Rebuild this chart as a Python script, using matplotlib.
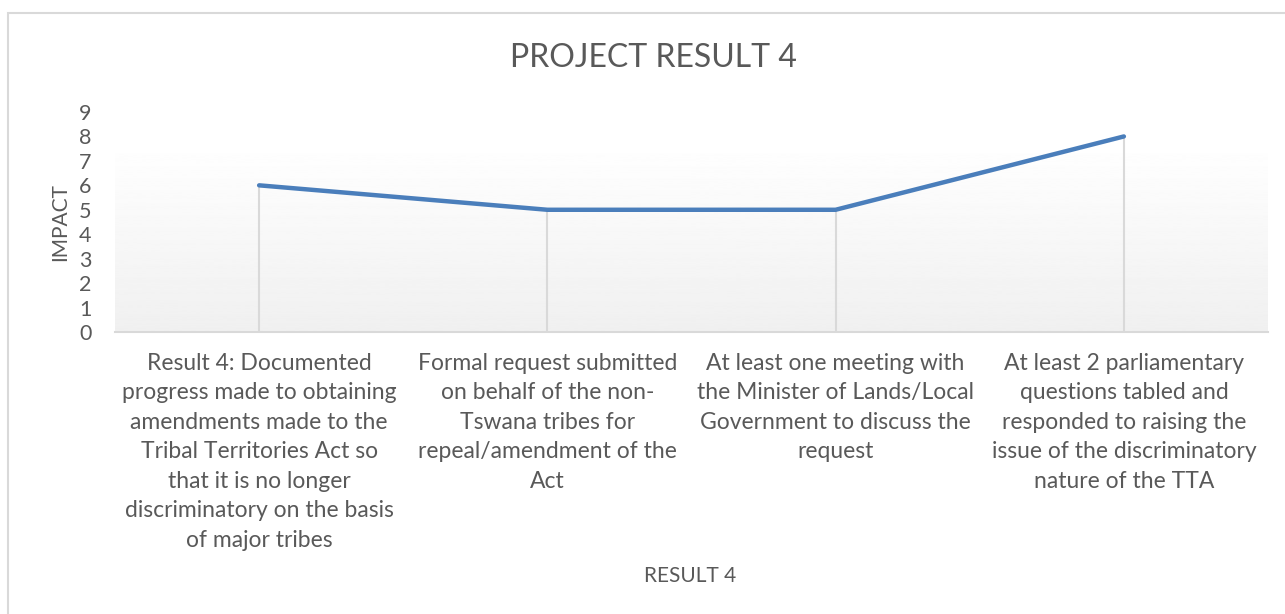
import numpy as np
import matplotlib.pyplot as plt
from matplotlib.patches import Rectangle

categories = [
    'Result 4: Documented\nprogress made to obtaining\namendments made to the\nTribal Territories Act so\nthat it is no longer\ndiscriminatory on the basis\nof major tribes',
    'Formal request submitted\non behalf of the non-\nTswana tribes for\nrepeal/amendment of the\nAct',
    'At least one meeting with\nthe Minister of Lands/Local\nGovernment to discuss the\nrequest',
    'At least 2 parliamentary\nquestions tabled and\nresponded to raising the\nissue of the discriminatory\nnature of the TTA',
]
impact = [6, 5, 5, 8]
y_ticks = list(range(0, 10))

plt.rcParams['font.family'] = ['Lato', 'DejaVu Sans']
text_color = '#595959'

fig = plt.figure(figsize=(12.85, 6.14), dpi=100)
ax = fig.add_axes([115/1285, 1-332/614, 1153/1285, 220/614])

x = np.arange(len(categories))
ax.set_xlim(-0.5, len(categories) - 0.5)
ax.set_ylim(0, 9)

# 渐变背景
grad = np.linspace(0.94, 1.0, 256).reshape(-1, 1)
ax.imshow(grad, cmap='gray', vmin=0, vmax=1, origin='lower', aspect='auto',
          extent=(-0.5, len(categories) - 0.5, 0, 7.8), zorder=0)

# 垂直线
ax.vlines(x, 0, impact, color='#d9d9d9', linewidth=1.5, zorder=1)
ax.plot(x, impact, color='#4a7ebb', linewidth=3.2, solid_capstyle='round', zorder=3)

ax.set_xticks(x)
ax.set_xticklabels(categories, fontsize=16.5, color=text_color, linespacing=1.5)
ax.set_yticks(y_ticks)
ax.set_yticklabels([str(v) for v in y_ticks], fontsize=15.5, color=text_color)
ax.tick_params(length=0)
ax.tick_params(axis='x', pad=15)
ax.tick_params(axis='y', pad=17)

for s in ['top', 'right', 'left']:
    ax.spines[s].set_visible(False)
ax.spines['bottom'].set_color('#d9d9d9')
ax.spines['bottom'].set_linewidth(1.5)

ax.set_ylabel('IMPACT', fontsize=15, color=text_color, labelpad=6)
fig.text(690/1285, 1-576/614, 'RESULT 4', fontsize=15, color=text_color,
         ha='center', va='center')
fig.text(653/1285, 1-58/614, 'PROJECT RESULT 4', fontsize=23, color=text_color,
         ha='center', va='center')

fig.patches.append(Rectangle((8/1285, -0.1), 1.2, 1.1 - 13.5/614,
                             transform=fig.transFigure, fill=False,
                             edgecolor='#d9d9d9', linewidth=1.5))

fig.savefig('out.png', dpi=100)
